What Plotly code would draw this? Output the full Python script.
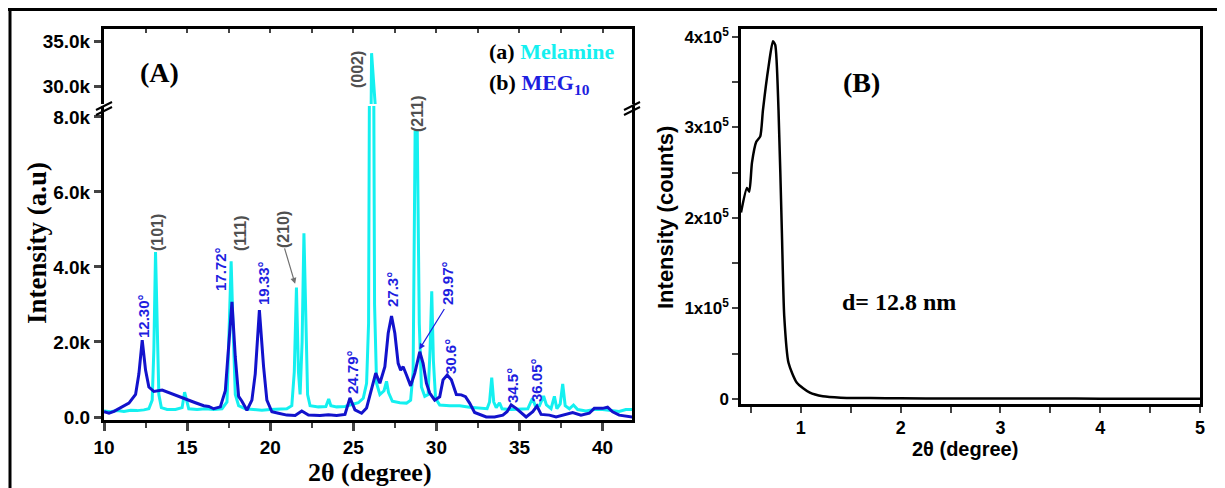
import plotly.graph_objects as go

W, H = 1225, 488
OFF = 8  # page body margin of the html page

# ---------------- Panel A data (2θ in degree, intensity in thousands) ----------------
mel_x = [10.0, 10.4, 10.8, 11.2, 11.6, 12.0, 12.4, 12.7, 12.9, 13.0, 13.1, 13.2, 13.3, 13.45,
         13.8, 14.3, 14.7, 14.85, 14.95, 15.1, 15.6, 16.1, 16.6, 17.1, 17.4, 17.55, 17.65, 17.75,
         17.9, 18.1, 18.5, 19.0, 19.5, 20.0, 20.5, 21.0, 21.3, 21.45, 21.58, 21.7, 21.8, 21.92,
         22.03, 22.13, 22.25, 22.4, 22.9, 23.35, 23.52, 23.65, 24.0, 24.5, 24.9, 25.3, 25.6, 25.8,
         25.92, 26.02, 26.1, 26.18, 26.28, 26.4, 26.6, 26.85, 27.0, 27.12, 27.35, 27.8, 28.2,
         28.45, 28.6, 28.72, 28.85, 28.97, 29.1, 29.3, 29.5, 29.62, 29.72, 29.82, 29.95, 30.2,
         30.8, 31.4, 32.0, 32.6, 33.05, 33.2, 33.33, 33.45, 33.6, 33.8, 33.95, 34.5, 35.0, 35.5,
         35.78, 35.95, 36.2, 36.45, 36.62, 36.9, 37.1, 37.25, 37.45, 37.6, 37.75, 38.0, 38.25,
         38.5, 39.0, 39.5, 40.0, 40.5, 41.0, 41.4, 41.8]
mel_y = [0.16, 0.14, 0.17, 0.15, 0.18, 0.17, 0.19, 0.22, 0.45, 1.8, 4.4, 2.2, 0.6, 0.25,
         0.2, 0.2, 0.25, 0.66, 0.45, 0.22, 0.2, 0.22, 0.2, 0.22, 0.4, 2.5, 4.15, 2.6,
         0.6, 0.3, 0.22, 0.2, 0.18, 0.2, 0.2, 0.22, 0.3, 1.2, 3.45, 1.2, 0.6, 2.0,
         4.9, 2.5, 0.6, 0.3, 0.27, 0.28, 0.48, 0.3, 0.27, 0.28, 0.32, 0.38, 0.5, 0.9,
         2.5, 15.0, 33.7, 15.0, 3.0, 0.9, 0.6, 0.7, 0.95, 0.65, 0.42, 0.38, 0.37,
         0.45, 1.2, 7.6, 7.6, 2.5, 0.8, 0.55, 0.6, 1.8, 3.35, 1.5, 0.5, 0.32,
         0.3, 0.3, 0.26, 0.24, 0.22, 0.4, 1.05, 0.4, 0.25, 0.38, 0.22, 0.2, 0.2, 0.22,
         0.5, 0.3, 0.3, 0.56, 0.32, 0.22, 0.55, 0.22, 0.35, 0.88, 0.3, 0.22, 0.32,
         0.2, 0.16, 0.2, 0.2, 0.18, 0.15, 0.2, 0.2]

meg_x = [10.0, 10.3, 10.6, 11.0, 11.5, 11.9, 12.1, 12.3, 12.5, 12.7, 13.0, 13.5, 14.0, 14.5,
         15.0, 15.5, 16.0, 16.3, 16.6, 17.0, 17.3, 17.5, 17.7, 17.9, 18.1, 18.3, 18.6, 18.9,
         19.1, 19.35, 19.6, 19.8, 20.1, 20.5, 21.0, 21.5, 21.9, 22.3, 23.0, 23.5, 24.0, 24.5,
         24.8, 25.1, 25.5, 25.8, 26.1, 26.35, 26.6, 26.9, 27.1, 27.3, 27.5, 27.7, 27.85, 28.0,
         28.2, 28.45, 28.7, 29.0, 29.2, 29.4, 29.6, 29.9, 30.2, 30.4, 30.65, 30.9, 31.2, 31.5,
         31.75, 32.0, 32.3, 32.7, 33.0, 33.5, 34.0, 34.25, 34.5, 34.8, 35.2, 35.4, 35.8, 36.05,
         36.3, 36.8, 37.2, 37.8, 38.2, 38.7, 39.2, 39.5, 40.0, 40.3, 40.6, 41.0, 41.8]
meg_y = [0.14, 0.1, 0.15, 0.24, 0.37, 0.6, 1.15, 2.05, 1.25, 0.8, 0.68, 0.72, 0.63, 0.54,
         0.45, 0.38, 0.3, 0.28, 0.22, 0.27, 0.7, 1.8, 3.07, 1.6, 0.55, 0.42, 0.18, 0.45,
         1.15, 2.85, 1.35, 0.45, 0.14, 0.1, 0.05, 0.04, 0.16, 0.05, 0.04, 0.06, 0.04, 0.07,
         0.51, 0.19, 0.1, 0.24, 0.72, 1.17, 0.9, 1.34, 2.23, 2.69, 2.23, 1.43, 1.25, 1.34,
         1.12, 0.83, 1.17, 1.74, 1.43, 0.9, 0.64, 0.45, 0.54, 0.99, 1.12, 0.99, 0.6, 0.59,
         0.54, 0.37, 0.12, 0.04, 0.0, 0.0, 0.05, 0.14, 0.32, 0.23, 0.08, 0.0, 0.14, 0.29,
         0.07, 0.05, 0.0, 0.08, 0.12, 0.05, 0.1, 0.23, 0.23, 0.26, 0.14, 0.05, 0.0]

a_low_ticks = [0, 2, 4, 6, 8]
a_low_text = ["0.0", "2.0k", "4.0k", "6.0k", "8.0k"]
a_high_ticks = [30, 35]
a_high_text = ["30.0k", "35.0k"]

hkl_labels = ["(101)", "(111)", "(210)", "(002)", "(211)"]
peak_labels = ["12.30°", "17.72°", "19.33°", "24.79°", "27.3°", "29.97°", "30.6°", "34.5°", "36.05°"]

# ---------------- Panel B data (SAXS) ----------------
saxs_x = [0.40, 0.46, 0.483, 0.51, 0.553, 0.593, 0.62, 0.676, 0.72, 0.743, 0.776, 0.81, 0.833,
          0.876, 0.96, 1.09, 1.22, 1.4, 1.7, 2.0, 2.5, 3.0, 3.5, 4.0, 4.5, 5.0]
saxs_y = [206000, 233000, 229000, 261000, 284000, 290000, 319000, 367000, 395000, 391000,
          319000, 183000, 92000, 40000, 18000, 7000, 3000, 1500, 1000, 800, 600, 500, 500,
          400, 400, 400]
b_ticks = [0, 100000, 200000, 300000, 400000]
b_text = ["0", "1x10<sup>5</sup>", "2x10<sup>5</sup>", "3x10<sup>5</sup>", "4x10<sup>5</sup>"]

CYAN = "#14F0F0"
BLUE = "#1212CC"
LBLUE = "#1E1EE0"
GRAY = "#505050"
SANS = "Liberation Sans, Arial, sans-serif"
SERIF = "Liberation Serif, Times New Roman, serif"


def X(p):
    return (p - OFF) / W


def Y(p):
    return 1 - (p - OFF) / H


fig = go.Figure()
fig.add_trace(go.Scatter(x=mel_x, y=mel_y, mode="lines", line=dict(color=CYAN, width=3),
                         xaxis="x", yaxis="y", showlegend=False, hoverinfo="skip"))
fig.add_trace(go.Scatter(x=meg_x, y=meg_y, mode="lines", line=dict(color=BLUE, width=3),
                         xaxis="x", yaxis="y", showlegend=False, hoverinfo="skip"))
fig.add_trace(go.Scatter(x=mel_x, y=mel_y, mode="lines", line=dict(color=CYAN, width=3),
                         xaxis="x2", yaxis="y2", showlegend=False, hoverinfo="skip"))
fig.add_trace(go.Scatter(x=saxs_x, y=saxs_y, mode="lines",
                         line=dict(color="black", width=2.5, shape="spline", smoothing=0.6),
                         xaxis="x3", yaxis="y3", showlegend=False, hoverinfo="skip"))

axA = dict(showline=True, linecolor="black", linewidth=3, showgrid=False, zeroline=False,
           automargin=False)
tickfA = dict(family=SANS, size=19, color="black", weight="bold")

fig.update_layout(
    width=W, height=H, margin=dict(l=0, r=0, t=0, b=0, autoexpand=False),
    paper_bgcolor="white", plot_bgcolor="white",
    xaxis=dict(domain=[X(104), X(632)], range=[10, 41.77], anchor="y",
               tickmode="linear", tick0=10, dtick=5, ticks="outside", ticklen=8, tickwidth=2.5,
               tickfont=tickfA,
               minor=dict(tickmode="linear", tick0=10, dtick=2.5, ticks="outside", ticklen=5,
                          tickwidth=2, showgrid=False),
               **axA),
    yaxis=dict(domain=[Y(420), Y(106)], range=[-0.08, 8.29], anchor="x",
               tickmode="array", tickvals=a_low_ticks, ticktext=a_low_text,
               ticks="outside", ticklen=7, tickwidth=2.5, tickfont=tickfA, mirror=True, **axA),
    xaxis2=dict(domain=[X(104), X(632)], range=[10, 41.77], anchor="y2", side="top",
                tickmode="linear", tick0=10, dtick=2.5, ticks="inside", ticklen=4, tickwidth=1.5,
                showticklabels=False, **axA),
    yaxis2=dict(domain=[Y(104), Y(29)], range=[27.97, 36.43], anchor="x2",
                tickmode="array", tickvals=a_high_ticks, ticktext=a_high_text,
                ticks="outside", ticklen=7, tickwidth=2.5, tickfont=tickfA, mirror=True, **axA),
    xaxis3=dict(domain=[X(741), X(1200)], range=[0.4, 5.0], anchor="y3",
                tickmode="linear", tick0=0, dtick=1, ticks="outside", ticklen=6, tickwidth=2,
                tickfont=dict(family=SANS, size=18, color="black", weight="bold"),
                minor=dict(tickmode="linear", tick0=0, dtick=0.5, ticks="outside", ticklen=6,
                           tickwidth=2, showgrid=False),
                showline=True, linecolor="black", linewidth=2.5, mirror=True,
                showgrid=False, zeroline=False, automargin=False),
    yaxis3=dict(domain=[Y(404), Y(29)], range=[-5500, 408600], anchor="x3",
                tickmode="array", tickvals=b_ticks, ticktext=b_text,
                ticks="outside", ticklen=6, tickwidth=2,
                tickfont=dict(family=SANS, size=17, color="black", weight="bold"),
                minor=dict(tickmode="linear", tick0=0, dtick=50000, ticks="outside", ticklen=6,
                           tickwidth=2, showgrid=False),
                showline=True, linecolor="black", linewidth=2.5, mirror=True,
                showgrid=False, zeroline=False, automargin=False),
)

shapes = []
# outer frame
for (x0, y0, x1, y1) in [(8, 9.5, 1222, 9.5), (10, 8, 10, 496), (1221, 8, 1221, 496)]:
    shapes.append(dict(type="line", xref="paper", yref="paper", x0=X(x0), y0=Y(y0), x1=X(x1),
                       y1=Y(y1), line=dict(color="black", width=3)))
# axis break marks
for bx in (104, 632):
    for dy in (0, 5):
        shapes.append(dict(type="line", xref="paper", yref="paper",
                           x0=X(bx - 8), y0=Y(110 + dy), x1=X(bx + 8), y1=Y(102 + dy),
                           line=dict(color="black", width=2)))
fig.update_layout(shapes=shapes)

ann = []


def txt(text, px, py, size, family, color="black", angle=0, xanchor="center"):
    ann.append(dict(text=text, x=X(px), y=Y(py), xref="paper", yref="paper", showarrow=False,
                    textangle=angle, xanchor=xanchor, yanchor="middle",
                    font=dict(family=family, size=size, color=color)))


# Panel A texts
txt("<b>(A)</b>", 159, 72, 28, SERIF)
txt("<b>(a) <span style='color:%s'>Melamine</span></b>" % CYAN, 487, 52, 22, SERIF, xanchor="left")
txt("<b>(b) <span style='color:%s'>MEG<sub>10</sub></span></b>" % LBLUE, 487, 84, 22, SERIF,
    xanchor="left")
txt("<b>2θ (degree)</b>", 370, 472, 26, SERIF)
txt("<b>Intensity (a.u)</b>", 37, 243, 27, SERIF, angle=-90)

hkl_pos = [(157, 233), (240, 233), (283, 230), (358, 70), (418, 114)]
for lab, (px, py) in zip(hkl_labels, hkl_pos):
    txt("<b>%s</b>" % lab, px, py, 16, SANS, color=GRAY, angle=-90)

peak_pos = [(143, 316), (220, 269), (263, 283), (352, 372), (392, 290), (447, 283), (450, 357),
            (512, 386), (536, 380)]
for lab, (px, py) in zip(peak_labels, peak_pos):
    txt("<b>%s</b>" % lab, px, py, 15, SANS, color=LBLUE, angle=-90)

# arrows
ann.append(dict(x=21.5, y=3.55, xref="x", yref="y", ax=-11, ay=-37, text="", showarrow=True,
                arrowhead=2, arrowsize=1, arrowwidth=1.2, arrowcolor="#707070"))
ann.append(dict(x=28.97, y=1.8, xref="x", yref="y", ax=26, ay=-42, text="", showarrow=True,
                arrowhead=2, arrowsize=1, arrowwidth=1.2, arrowcolor=LBLUE))

# Panel B texts
txt("<b>(B)</b>", 861, 82, 28, SERIF)
txt("<b>d= 12.8 nm</b>", 899, 302, 24, SERIF)
txt("<b>Intensity (counts)</b>", 665, 218, 22, SANS, angle=-90)
txt("<b>2θ (degree)</b>", 965, 449, 20, SANS)

fig.update_layout(annotations=ann)

fig.write_html("out.html")
